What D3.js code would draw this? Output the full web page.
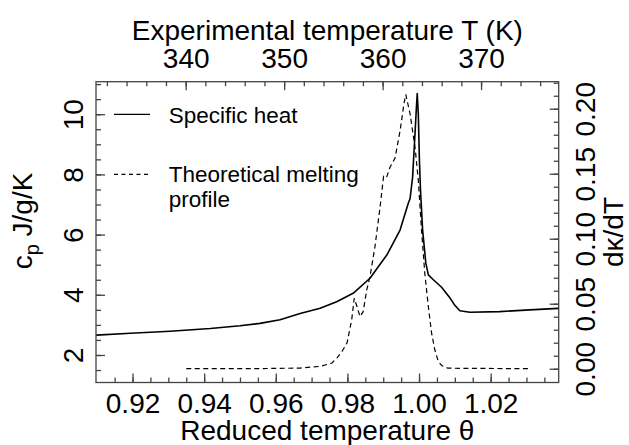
<!DOCTYPE html>
<html>
<head>
<meta charset="utf-8">
<script src="https://cdn.jsdelivr.net/npm/d3@7"></script>
<style>
  body { margin: 0; background: #fff; }
  text { font-family: "Liberation Sans", Arial, Helvetica, sans-serif; fill: #000; }
</style>
</head>
<body>
<div id="chart"></div>
<script>
var width = 629,
    height = 445,
    margin = {
        top: 81.7,
        right: 70.3,
        bottom: 62.5,
        left: 96
    };

// specific heat (reduced temperature, J/g/K)
var thetaCp = [0.9099, 0.9194, 0.9305, 0.9417, 0.9500, 0.9556, 0.9612, 0.9668, 0.9724, 0.9770,
               0.9816, 0.9863, 0.9910, 0.9947, 0.9970, 0.9975, 0.9982, 0.9989, 0.9993, 0.9995,
               0.9998, 1.0001, 1.0004, 1.0010, 1.0019, 1.0026, 1.0040, 1.0063, 1.0086, 1.0100,
               1.0114, 1.0142, 1.0225, 1.0309, 1.0389];
var cpValues = [2.66, 2.72, 2.79, 2.88, 2.97, 3.05, 3.17, 3.38, 3.55, 3.77,
                4.05, 4.55, 5.32, 6.15, 7.04, 7.20, 7.90, 9.40, 10.30, 10.69,
                10.00, 8.50, 7.50, 6.15, 5.05, 4.66, 4.50, 4.25, 3.90, 3.65,
                3.47, 3.42, 3.44, 3.50, 3.55];

// theoretical melting profile (dkappa/dT, right axis)
var thetaMelt = [0.9350, 0.9528, 0.9668, 0.9724, 0.9757, 0.9771, 0.9785, 0.9799, 0.9812, 0.9819,
                 0.9828, 0.9835, 0.9844, 0.9854, 0.9863, 0.9877, 0.9891, 0.9901, 0.9909, 0.9919,
                 0.9933, 0.9947, 0.9958, 0.9963, 0.9975, 0.9989, 0.9998, 1.0007, 1.0016, 1.0026,
                 1.0035, 1.0044, 1.0054, 1.0064, 1.0081, 1.0304];
var meltValues = [0.0000, 0.0000, 0.0005, 0.0018, 0.0044, 0.0084, 0.0133, 0.0199, 0.0376, 0.0542,
                  0.0468, 0.0401, 0.0439, 0.0606, 0.0708, 0.0940, 0.1240, 0.1480, 0.1470, 0.1550,
                  0.1620, 0.1830, 0.2040, 0.2110, 0.1960, 0.1700, 0.1450, 0.1066, 0.0736, 0.0478,
                  0.0276, 0.0146, 0.0054, 0.0023, 0.0004, 0.0000];

var meltingT = 363.7;   // T = theta * Tm for the top axis

var xMajor = [0.92, 0.94, 0.96, 0.98, 1.00, 1.02];
var xMinor = d3.range(0.915, 1.0351, 0.005);
var topMajor = [340, 350, 360, 370];
var topMinor = d3.range(332, 377, 2);
var leftMajor = [2, 4, 6, 8, 10];
var leftMinor = d3.range(1.5, 11.01, 0.5);
var rightMajor = [0.00, 0.05, 0.10, 0.15, 0.20];
var rightMinor = d3.range(0, 0.2201, 0.01);

var xDomain = [0.9098, 1.039];

var x = d3.scaleLinear()
    .domain(xDomain)
    .range([margin.left, width - margin.right]);

var xTop = d3.scaleLinear()
    .domain([xDomain[0] * meltingT, xDomain[1] * meltingT])
    .range([margin.left, width - margin.right]);

var yLeft = d3.scaleLinear()
    .domain([1.086, 11.08])
    .range([height - margin.bottom, margin.top]);

var yRight = d3.scaleLinear()
    .domain([-0.0106, 0.2208])
    .range([height - margin.bottom, margin.top]);

var svg = d3.select('#chart').append('svg')
    .attr('width', width)
    .attr('height', height);

var axisColor = '#444';
var fontSize = 28;

function styleAxis(g){
    g.attr('color', axisColor)
        .attr('font-size', fontSize)
        .attr('font-family', null);
    g.select('.domain').remove();
    g.selectAll('line').attr('stroke-width', 1.3);
}

// bottom axis
svg.append('g')
    .attr('transform', 'translate(0,' + (height - margin.bottom) + ')')
    .call(d3.axisBottom(x).tickValues(xMinor).tickSize(-5).tickFormat(''))
    .call(styleAxis);

svg.append('g')
    .attr('transform', 'translate(0,' + (height - margin.bottom) + ')')
    .call(d3.axisBottom(x).tickValues(xMajor).tickSize(-9).tickFormat(d3.format('.2f')))
    .call(styleAxis)
    .selectAll('text')
    .attr('y', 30.5)
    .attr('dy', null)
    .attr('fill', '#000');

// top axis in Kelvin
svg.append('g')
    .attr('transform', 'translate(0,' + margin.top + ')')
    .call(d3.axisTop(xTop).tickValues(topMinor).tickSize(-4.5).tickFormat(''))
    .call(styleAxis);

svg.append('g')
    .attr('transform', 'translate(0,' + margin.top + ')')
    .call(d3.axisTop(xTop).tickValues(topMajor).tickSize(-8.5).tickFormat(d3.format('d')))
    .call(styleAxis)
    .selectAll('text')
    .attr('y', -13.7)
    .attr('dy', null)
    .attr('fill', '#000');

// left axis
svg.append('g')
    .attr('transform', 'translate(' + margin.left + ',0)')
    .call(d3.axisLeft(yLeft).tickValues(leftMinor).tickSize(-5).tickFormat(''))
    .call(styleAxis);

svg.append('g')
    .attr('transform', 'translate(' + margin.left + ',0)')
    .call(d3.axisLeft(yLeft).tickValues(leftMajor).tickSize(-9).tickFormat(d3.format('d')))
    .call(styleAxis)
    .selectAll('text')
    .attr('x', null)
    .attr('dy', null)
    .attr('text-anchor', 'middle')
    .attr('transform', 'translate(-13,0) rotate(-90)')
    .attr('fill', '#000');

// right axis
svg.append('g')
    .attr('transform', 'translate(' + (width - margin.right) + ',0)')
    .call(d3.axisRight(yRight).tickValues(rightMinor).tickSize(-5).tickFormat(''))
    .call(styleAxis);

svg.append('g')
    .attr('transform', 'translate(' + (width - margin.right) + ',0)')
    .call(d3.axisRight(yRight).tickValues(rightMajor).tickSize(-9).tickFormat(d3.format('.2f')))
    .call(styleAxis)
    .selectAll('text')
    .attr('x', null)
    .attr('dy', null)
    .attr('text-anchor', 'middle')
    .attr('transform', 'translate(36.3,0) rotate(-90)')
    .attr('fill', '#000');

// frame
svg.append('rect')
    .attr('x', margin.left)
    .attr('y', margin.top)
    .attr('width', width - margin.left - margin.right)
    .attr('height', height - margin.top - margin.bottom)
    .attr('fill', 'none')
    .attr('stroke', axisColor)
    .attr('stroke-width', 1.3);

// curves
var cpLine = d3.line()
    .x(function(d){ return x(d[0]); })
    .y(function(d){ return yLeft(d[1]); });

var meltLine = d3.line()
    .x(function(d){ return x(d[0]); })
    .y(function(d){ return yRight(d[1]); });

svg.append('path')
    .datum(d3.zip(thetaMelt, meltValues))
    .attr('d', meltLine)
    .attr('fill', 'none')
    .attr('stroke', '#000')
    .attr('stroke-width', 1.2)
    .attr('stroke-dasharray', '5,3.5');

svg.append('path')
    .datum(d3.zip(thetaCp, cpValues))
    .attr('d', cpLine)
    .attr('fill', 'none')
    .attr('stroke', '#000')
    .attr('stroke-width', 1.6)
    .attr('stroke-linejoin', 'round');

// axis titles
svg.append('text')
    .attr('x', (margin.left + width - margin.right) / 2)
    .attr('y', 40)
    .attr('text-anchor', 'middle')
    .attr('font-size', fontSize)
    .text('Experimental temperature T (K)');

svg.append('text')
    .attr('x', (margin.left + width - margin.right) / 2)
    .attr('y', 439.5)
    .attr('text-anchor', 'middle')
    .attr('font-size', fontSize)
    .text('Reduced temperature \u03b8');

var leftTitle = svg.append('text')
    .attr('transform', 'translate(32,221) rotate(-90)')
    .attr('text-anchor', 'middle')
    .attr('font-size', fontSize);
leftTitle.append('tspan').text('c');
leftTitle.append('tspan').attr('font-size', 20).attr('dy', 7).text('p');
leftTitle.append('tspan').attr('dy', -7).text(' J/g/K');

svg.append('text')
    .attr('transform', 'translate(623,232) rotate(-90)')
    .attr('text-anchor', 'middle')
    .attr('font-size', fontSize)
    .text('d\u03ba/dT');

// legend
var legend = svg.append('g');

legend.append('line')
    .attr('x1', 114).attr('x2', 150)
    .attr('y1', 114.3).attr('y2', 114.3)
    .attr('stroke', '#000')
    .attr('stroke-width', 1.2);

legend.append('text')
    .attr('x', 168.7)
    .attr('y', 123)
    .attr('font-size', 22.5)
    .text('Specific heat');

legend.append('line')
    .attr('x1', 114).attr('x2', 150)
    .attr('y1', 174.3).attr('y2', 174.3)
    .attr('stroke', '#000')
    .attr('stroke-width', 1.2)
    .attr('stroke-dasharray', '4,3.5');

legend.append('text')
    .attr('x', 168.7)
    .attr('y', 182)
    .attr('font-size', 22.5)
    .text('Theoretical melting');

legend.append('text')
    .attr('x', 168.7)
    .attr('y', 207)
    .attr('font-size', 22.5)
    .text('profile');
</script>
</body>
</html>
